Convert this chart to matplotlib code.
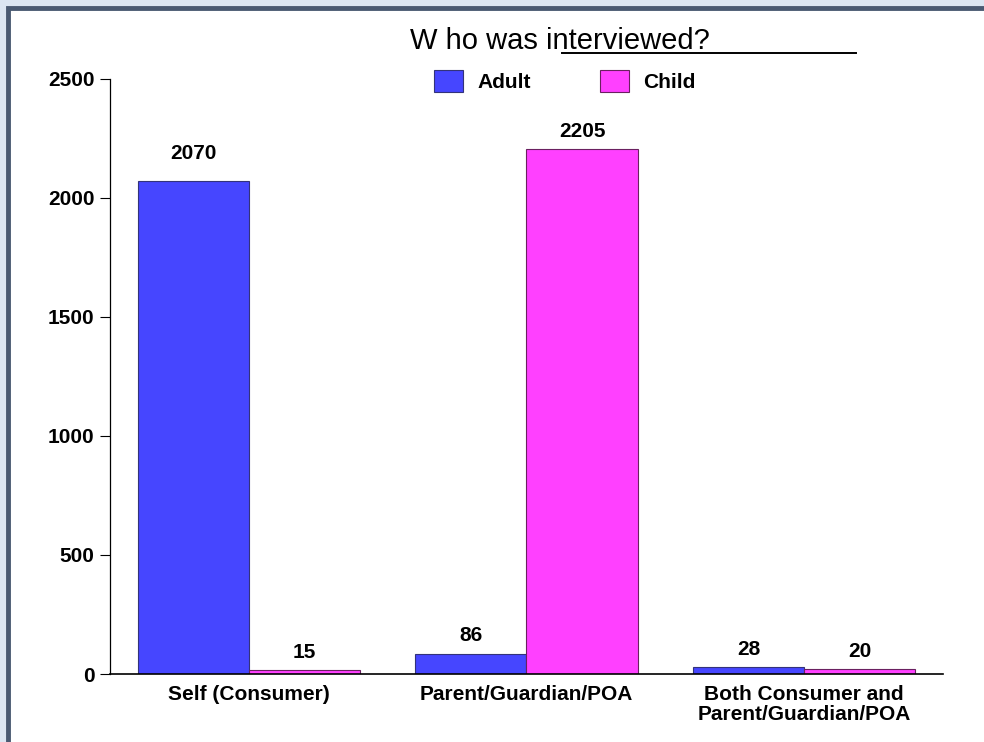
import matplotlib
matplotlib.use("Agg")
import matplotlib.pyplot as plt
from matplotlib.patches import Rectangle
from matplotlib.lines import Line2D
import numpy as np

plt.rcParams['font.family'] = ['Liberation Sans', 'DejaVu Sans']

# data
categories = ['Self (Consumer)', 'Parent/Guardian/POA', 'Both Consumer and\nParent/Guardian/POA']
adult = [2070, 86, 28]
child = [15, 2205, 20]
yticks = [0, 500, 1000, 1500, 2000, 2500]

blue = '#4646ff'
pink = '#ff40ff'

fig = plt.figure(figsize=(9.84, 7.42), dpi=100)
fig.patch.set_facecolor('#dce6f2')

# frame round the chart (cut off on right and bottom)
W, H = 984, 742
fig.patches.append(Rectangle((8 / W, -0.1), 1.2, (H - 8) / H + 0.1,
                             transform=fig.transFigure, facecolor='white',
                             edgecolor='#4a5a72', linewidth=3.5, zorder=-10))

ax = fig.add_axes([110 / W, 68 / H, (943 - 110) / W, (674 - 79) / H])
ax.set_facecolor('none')

x = np.arange(len(categories))
w = 0.4
b1 = ax.bar(x - w / 2, adult, w, color=blue, edgecolor='#33337a', linewidth=0.8, label='Adult')
b2 = ax.bar(x + w / 2, child, w, color=pink, edgecolor='#6a2060', linewidth=0.8, label='Child')

# label gap above each bar (points); the first one sits higher in the original
gaps = [[13, 6, 6], [6, 6, 6]]
for bars, vals, gp in ((b1, adult, gaps[0]), (b2, child, gaps[1])):
    for r, v, g in zip(bars, vals, gp):
        ax.annotate(str(v), (r.get_x() + r.get_width() / 2, v), xytext=(0, g),
                    textcoords='offset points', ha='center', va='bottom',
                    fontsize=15, fontweight='bold')

ax.set_xlim(-0.5, 2.5)
ax.set_ylim(0, 2500)
ax.set_yticks(yticks)
ax.set_yticklabels([str(t) for t in yticks], fontsize=15, fontweight='bold')
ax.set_xticks(x)
ax.set_xticklabels(categories, fontsize=15, fontweight='bold', linespacing=1.08)
ax.tick_params(axis='x', length=0, pad=8)
ax.tick_params(axis='y', length=7, width=0.8, pad=4, direction='out')
ax.spines['top'].set_visible(False)
ax.spines['right'].set_visible(False)
ax.spines['left'].set_linewidth(0.9)
ax.spines['bottom'].set_linewidth(1.2)

fig.text(410 / W, 1 - 41 / H, 'W ho was interviewed?', fontsize=21, ha='left', va='center')
fig.lines.append(Line2D([562 / W, 856 / W], [1 - 53 / H, 1 - 53 / H],
                        transform=fig.transFigure, color='black', linewidth=1.4))

leg = fig.legend(handles=[b1, b2], labels=['Adult', 'Child'], ncol=2, loc='center',
                 bbox_to_anchor=(565 / W, 1 - 81 / H), frameon=False,
                 prop={'weight': 'bold', 'size': 15}, handlelength=1.35, handleheight=1.2,
                 columnspacing=3.35, handletextpad=0.7)

fig.savefig('out.png', dpi=100, facecolor=fig.get_facecolor())
